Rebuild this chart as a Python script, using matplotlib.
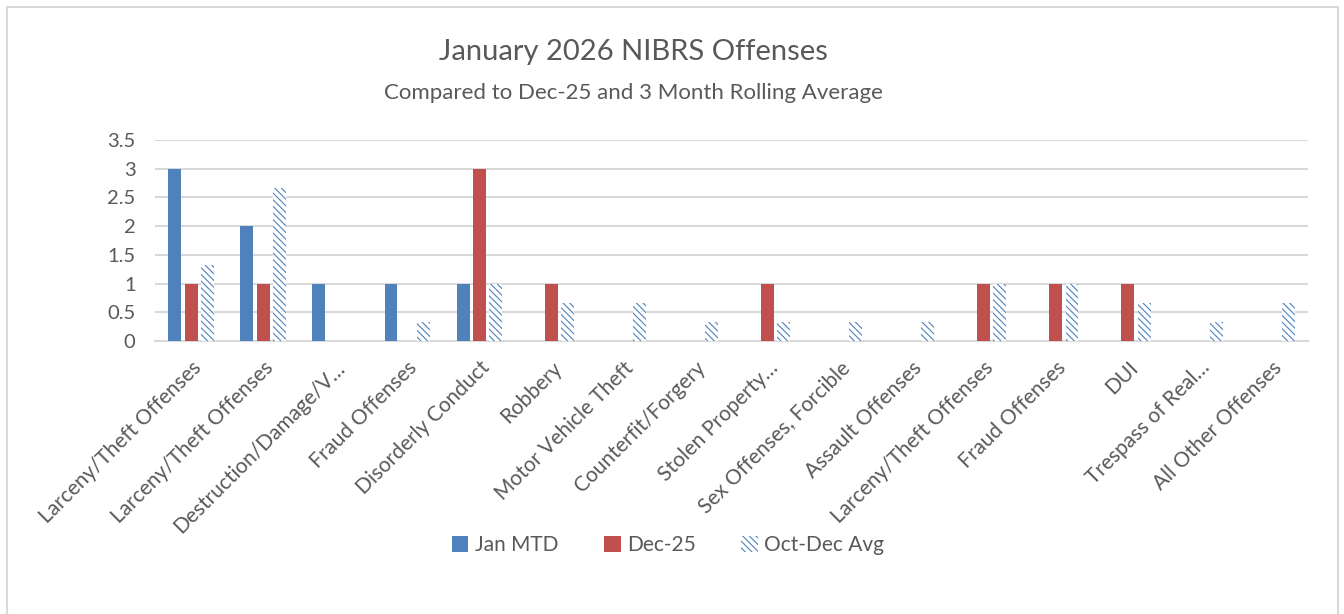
import matplotlib
matplotlib.use("Agg")
import matplotlib.pyplot as plt
import numpy as np
from matplotlib.patches import Rectangle, Patch

plt.rcParams['font.family'] = ['Lato', 'DejaVu Sans']
plt.rcParams['hatch.linewidth'] = 0.8
plt.rcParams['hatch.color'] = '#4f81bd'

categories = ["Larceny/Theft Offenses", "Larceny/Theft Offenses", "Destruction/Damage/V…",
              "Fraud Offenses", "Disorderly Conduct", "Robbery", "Motor Vehicle Theft",
              "Counterfit/Forgery", "Stolen Property…", "Sex Offenses, Forcible",
              "Assault Offenses", "Larceny/Theft Offenses", "Fraud Offenses", "DUI",
              "Trespass of Real…", "All Other Offenses"]
jan_mtd = [3, 2, 1, 1, 1, 0, 0, 0, 0, 0, 0, 0, 0, 0, 0, 0]
dec_25 = [1, 1, 0, 0, 3, 1, 0, 0, 1, 0, 0, 1, 1, 1, 0, 0]
oct_dec_avg = [1.33, 2.67, 0, 0.33, 1, 0.67, 0.67, 0.33, 0.33, 0.33, 0.33, 1, 1, 0.67, 0.33, 0.67]
series_names = ["Jan MTD", "Dec-25", "Oct-Dec Avg"]
yticks = [0, 0.5, 1, 1.5, 2, 2.5, 3, 3.5]

BLUE = '#4f81bd'
RED = '#c0504d'
TXT = '#595959'
GRID = '#d9d9d9'
HATCH = '\\\\\\\\\\'

W, H = 1344, 614
fig = plt.figure(figsize=(W / 100, H / 100), dpi=100)
fig.patches.append(Rectangle((7 / W, -0.05), (1338 - 7) / W, 1 - 7 / H + 0.05,
                             transform=fig.transFigure, fill=False,
                             edgecolor='#d9d9d9', linewidth=1.5, zorder=0))

ax = fig.add_axes([155 / W, 1 - 341 / H, (1308 - 155) / W, (341 - 140) / H])
x = np.arange(len(categories))
bw = 0.18
off = 0.225
ax.bar(x - off, jan_mtd, bw, color=BLUE, zorder=3)
ax.bar(x, dec_25, bw, color=RED, zorder=3)
ax.bar(x + off, oct_dec_avg, bw, facecolor='white', edgecolor=BLUE, linewidth=0,
       hatch=HATCH, zorder=3)

ax.set_xlim(-0.5, len(categories) - 0.5)
ax.set_ylim(0, 3.5)
ax.set_yticks(yticks)
ax.set_yticklabels([f"{v:g}" for v in yticks])
ax.yaxis.grid(True, color=GRID, linewidth=1.5, zorder=0)
ax.set_axisbelow(True)
for s in ['top', 'right', 'left']:
    ax.spines[s].set_visible(False)
ax.spines['bottom'].set_color(GRID)
ax.spines['bottom'].set_linewidth(1.5)
ax.tick_params(axis='both', length=0, colors=TXT)
ax.tick_params(axis='y', pad=14, labelsize=14.5)
ax.set_xticks(x)
ax.set_xticklabels(categories, rotation=45, ha='right', va='top', rotation_mode='anchor')
ax.tick_params(axis='x', pad=12, labelsize=15)

fig.text(633 / W, 1 - 52 / H, "January 2026 NIBRS Offenses", ha='center', va='center',
         fontsize=21, color=TXT)
fig.text(633 / W, 1 - 93 / H, "Compared to Dec-25 and 3 Month Rolling Average", ha='center',
         va='center', fontsize=16, color=TXT)

handles = [Patch(facecolor=BLUE), Patch(facecolor=RED),
           Patch(facecolor='white', edgecolor=BLUE, linewidth=0, hatch=HATCH)]
fig.legend(handles, series_names, loc='center', bbox_to_anchor=(0.497, 1 - 545 / H),
           ncol=3, frameon=False, fontsize=15, labelcolor=TXT, handlelength=0.8,
           handleheight=0.8, handletextpad=0.3, columnspacing=2.2)

fig.savefig("out.png", dpi=100)
